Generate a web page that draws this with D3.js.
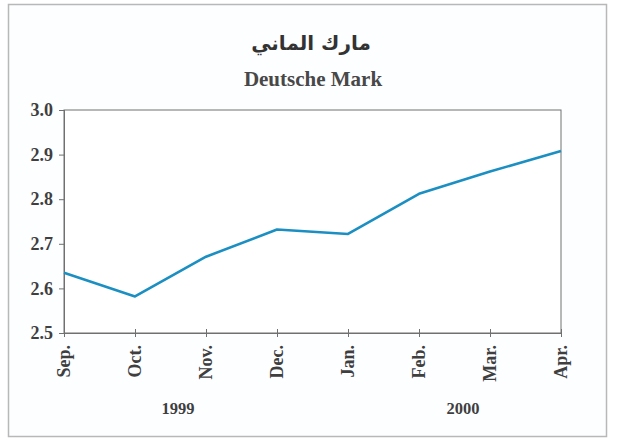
<!DOCTYPE html>
<html><head><meta charset="utf-8">
<script src="https://cdn.jsdelivr.net/npm/d3@7"></script>
<style>
html,body{margin:0;padding:0;background:#fff;}
svg{display:block;}
text{font-family:"Liberation Serif","Times New Roman",serif;font-weight:bold;fill:#3f3f3f;}
</style></head><body>
<svg id="c" width="617" height="441"></svg>
<script>
const months = ["Sep.","Oct.","Nov.","Dec.","Jan.","Feb.","Mar.","Apr."];
const values = [2.635, 2.582, 2.671, 2.732, 2.722, 2.812, 2.862, 2.908];
const yTicks = [2.5, 2.6, 2.7, 2.8, 2.9, 3.0];
const years = ["1999","2000"];
const yearPos = [178, 463];
const titleAr = "مارك الماني";
const titleEn = "Deutsche Mark";

const svg = d3.select("#c");
const L = 64, R = 561, T = 110, B = 333;

svg.append("rect").attr("x",8.5).attr("y",4.5).attr("width",598).attr("height",432)
  .attr("fill","#fdfeff").attr("stroke","#b8b8b8").attr("stroke-width",1.5);

const x = d3.scalePoint().domain(months).range([L, R]);
const y = d3.scaleLinear().domain([2.5, 3.0]).range([B, T]);

svg.append("rect").attr("x",L).attr("y",T).attr("width",R-L).attr("height",B-T)
  .attr("fill","#fff").attr("stroke","#707070").attr("stroke-width",1);

// y axis
const ya = svg.append("g").attr("transform",`translate(${L},0)`)
  .call(d3.axisLeft(y).tickValues(yTicks).tickFormat(d3.format(".1f")).tickSize(5).tickPadding(6));
ya.select(".domain").attr("stroke","#707070");
ya.selectAll(".tick line").attr("stroke","#707070").attr("x1",-5).attr("x2",1);
ya.selectAll(".tick text").attr("font-size",18)
  .attr("font-family","Liberation Serif").attr("font-weight","bold");

// x axis
const xa = svg.append("g").attr("transform",`translate(0,${B})`)
  .call(d3.axisBottom(x).tickSize(4).tickPadding(0));
xa.select(".domain").attr("stroke","#707070");
xa.selectAll(".tick line").attr("stroke","#707070").attr("y1",-4).attr("y2",4);
xa.selectAll(".tick text").attr("font-size",18)
  .attr("font-family","Liberation Serif").attr("font-weight","bold")
  .attr("transform","rotate(-90)").attr("text-anchor","end")
  .attr("x",-12).attr("y",0).attr("dy","0.33em");

// line
svg.append("path").datum(values)
  .attr("fill","none").attr("stroke","#1b8fc2").attr("stroke-width",2.6)
  .attr("stroke-linejoin","round")
  .attr("d", d3.line().x((d,i)=>x(months[i])).y(d=>y(d)));

// titles
svg.append("text").attr("x",311).attr("y",50).attr("text-anchor","middle")
  .attr("font-size",20).style("font-family","'DejaVu Sans','Noto Sans',sans-serif")
  .style("fill","#333").text(titleAr);
svg.append("text").attr("x",313).attr("y",86).attr("text-anchor","middle")
  .attr("font-size",21).style("fill","#484848").text(titleEn);

// years
svg.selectAll(".yr").data(years).enter().append("text")
  .attr("x",(d,i)=>yearPos[i]).attr("y",414).attr("text-anchor","middle")
  .attr("font-size",16.5).text(d=>d);
</script></body></html>
